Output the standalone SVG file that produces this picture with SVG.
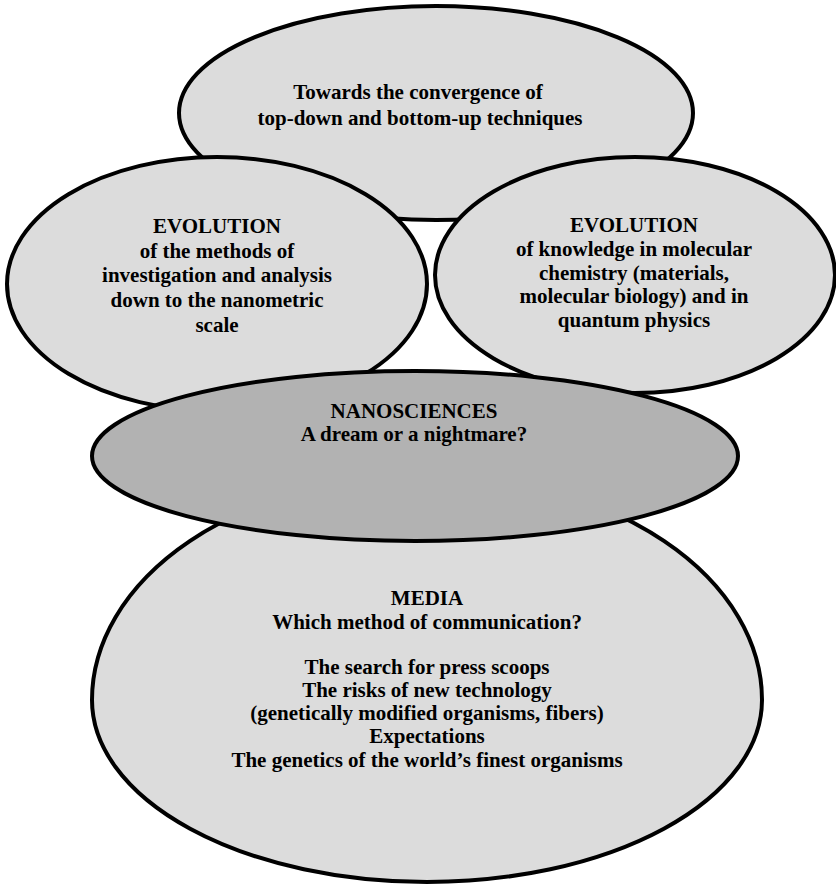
<svg xmlns="http://www.w3.org/2000/svg" width="836" height="889" viewBox="0 0 836 889">
<style>
.n{stroke:#000;stroke-width:4;fill:#dcdcdc}
.d{fill:#b2b2b2}
text{font-family:"Liberation Serif","Times New Roman",serif;font-weight:bold;font-size:21px;fill:#000;text-anchor:middle}
</style>
<rect width="836" height="889" fill="#fff"/>
<g id="connectors"></g>
<g id="top">
<ellipse class="n" cx="436" cy="113" rx="257" ry="107"/>
<text x="418" y="99">Towards the convergence of</text>
<text x="420" y="125">top-down and bottom-up techniques</text>
</g>
<g id="left">
<ellipse class="n" cx="217" cy="284" rx="210" ry="127"/>
<text x="217" y="233">EVOLUTION</text>
<text x="217" y="258">of the methods of</text>
<text x="217" y="282">investigation and analysis</text>
<text x="217" y="307">down to the nanometric</text>
<text x="217" y="332">scale</text>
</g>
<g id="right">
<ellipse class="n" cx="635" cy="275" rx="200" ry="118"/>
<text x="634" y="232">EVOLUTION</text>
<text x="634" y="256">of knowledge in molecular</text>
<text x="634" y="280">chemistry (materials,</text>
<text x="634" y="303">molecular biology) and in</text>
<text x="634" y="327">quantum physics</text>
</g>
<g id="media">
<path class="n" d="M92,700 A335,182 0 0 0 762,700 A335,225 0 0 0 92,700 Z"/>
<text x="427" y="605">MEDIA</text>
<text x="427" y="629">Which method of communication?</text>
<text x="427" y="674">The search for press scoops</text>
<text x="427" y="697">The risks of new technology</text>
<text x="427" y="720">(genetically modified organisms, fibers)</text>
<text x="427" y="743">Expectations</text>
<text x="427" y="767">The genetics of the world’s finest organisms</text>
</g>
<g id="nanosciences">
<ellipse class="n d" cx="415" cy="456" rx="323" ry="85"/>
<text x="414" y="418">NANOSCIENCES</text>
<text x="414" y="441">A dream or a nightmare?</text>
</g>
</svg>
